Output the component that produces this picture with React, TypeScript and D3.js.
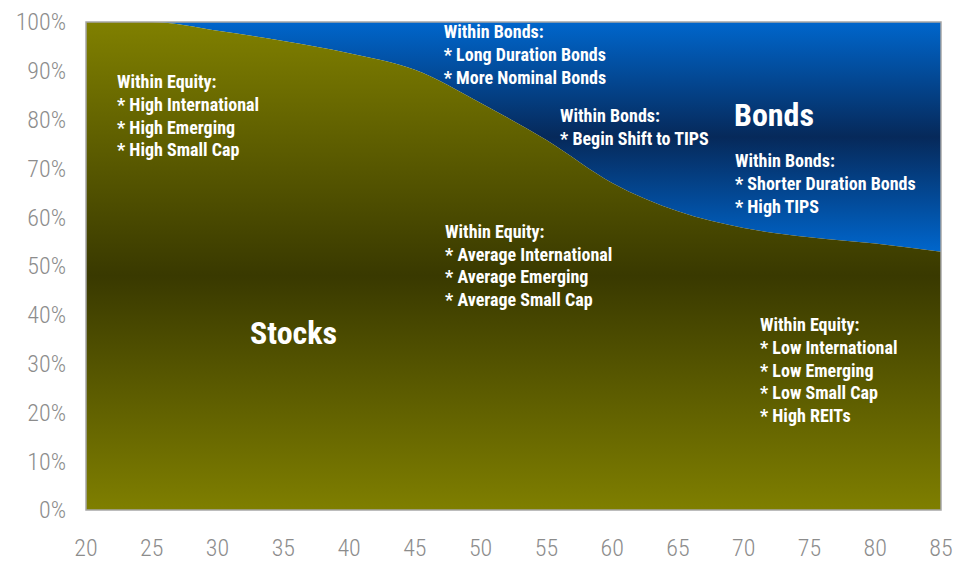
import React from "react";
import * as d3 from "d3";

const ages = [20, 25, 30, 35, 40, 45, 50, 55, 60, 65, 70, 75, 80, 85];
const stockPct = [100, 100, 98.2, 96.1, 93.6, 90.2, 83.4, 75.8, 67, 61.2, 57.8, 55.9, 54.6, 52.9];
const xTicks = [20, 25, 30, 35, 40, 45, 50, 55, 60, 65, 70, 75, 80, 85];
const yTicks = [0, 10, 20, 30, 40, 50, 60, 70, 80, 90, 100];

const notes: { age: number; pct: number; lines: string[] }[] = [
  { age: 22.36, pct: 87.7, lines: ["Within Equity:", "* High International", "* High Emerging", "* High Small Cap"] },
  { age: 47.2, pct: 97.95, lines: ["Within Bonds:", "* Long Duration Bonds", "* More Nominal Bonds"] },
  { age: 56.04, pct: 80.7, lines: ["Within Bonds:", "* Begin Shift to TIPS"] },
  { age: 69.34, pct: 71.5, lines: ["Within Bonds:", "* Shorter Duration Bonds", "* High TIPS"] },
  { age: 47.3, pct: 57.0, lines: ["Within Equity:", "* Average International", "* Average Emerging", "* Average Small Cap"] },
  { age: 71.24, pct: 37.9, lines: ["Within Equity:", "* Low International", "* Low Emerging", "* Low Small Cap", "* High REITs"] },
];
const bigLabels = [
  { age: 32.47, pct: 36.3, text: "Stocks" },
  { age: 69.26, pct: 80.9, text: "Bonds" },
];

const W = 966, H = 561;
const M = { left: 86, right: 941, top: 22, bottom: 510 };
const FONT = "'Roboto Condensed', 'Liberation Sans Narrow', 'Arial Narrow', 'DejaVu Sans Condensed', sans-serif";

export default function App() {
  const x = d3.scaleLinear().domain([20, 85]).range([M.left, M.right]);
  const y = d3.scaleLinear().domain([0, 100]).range([M.bottom, M.top]);
  const data = ages.map((a, i) => ({ a, v: stockPct[i] }));
  const stockArea = d3.area<{ a: number; v: number }>()
    .x(d => x(d.a)).y0(y(0)).y1(d => y(d.v)).curve(d3.curveMonotoneX);
  const bondArea = d3.area<{ a: number; v: number }>()
    .x(d => x(d.a)).y0(y(100)).y1(d => y(d.v)).curve(d3.curveMonotoneX);
  const lh = 22.6;
  return (
    <svg width={W} height={H} style={{ position: "absolute", left: 0, top: 0, background: "#fff" }}>
      <defs>
        <linearGradient id="gStock" x1="0" y1="0" x2="0" y2="1">
          <stop offset="0" stopColor="#808000" />
          <stop offset="0.52" stopColor="#393900" />
          <stop offset="1" stopColor="#7f7f00" />
        </linearGradient>
        <linearGradient id="gBond" x1="0" y1="0" x2="0" y2="1">
          <stop offset="0" stopColor="#0066cc" />
          <stop offset="0.5" stopColor="#06295a" />
          <stop offset="1" stopColor="#0066cc" />
        </linearGradient>
      </defs>
      <path d={bondArea(data) || ""} fill="url(#gBond)" />
      <path d={stockArea(data) || ""} fill="url(#gStock)" />
      <rect x={M.left} y={M.top} width={M.right - M.left} height={M.bottom - M.top}
        fill="none" stroke="#a6a6a6" strokeWidth={1.5} />
      {yTicks.map(t => (
        <text key={"y" + t} x={66} y={y(t)} dy="0.35em" textAnchor="end"
          fontFamily={FONT} fontSize={24} fontWeight={300} fill="#8c8c8c">{t}%</text>
      ))}
      {xTicks.map(t => (
        <text key={"x" + t} x={x(t)} y={548} dy="0.35em" textAnchor="middle"
          fontFamily={FONT} fontSize={24} fontWeight={300} fill="#8c8c8c">{t}</text>
      ))}
      {notes.map((n, i) => (
        <text key={"n" + i} x={x(n.age)} y={y(n.pct)} fontFamily={FONT} fontSize={18}
          fontWeight="bold" fill="#ffffff">
          {n.lines.map((l, j) => (
            <tspan key={j} x={x(n.age)} y={y(n.pct) + j * lh} dy="0.35em">{l}</tspan>
          ))}
        </text>
      ))}
      {bigLabels.map((b, i) => (
        <text key={"b" + i} x={x(b.age)} y={y(b.pct)} dy="0.35em" fontFamily={FONT}
          fontSize={32} fontWeight="bold" fill="#ffffff">{b.text}</text>
      ))}
    </svg>
  );
}
